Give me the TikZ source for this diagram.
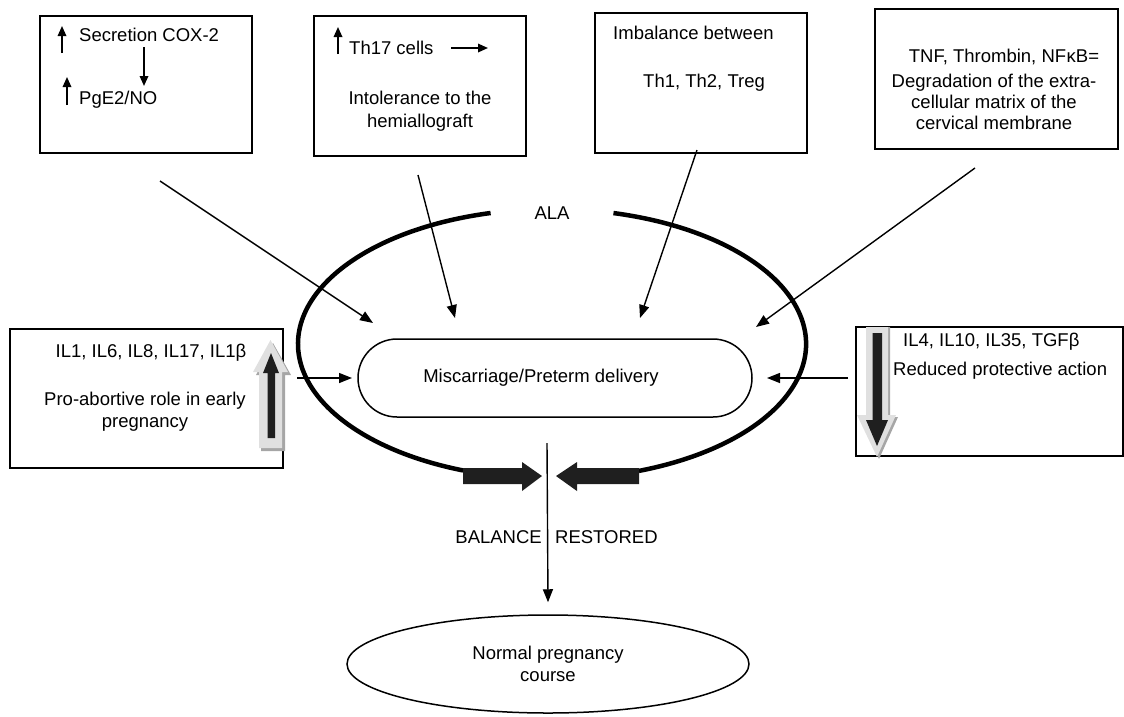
\documentclass[tikz,border=0pt]{standalone}
\usepackage{fontspec}
\setmainfont{Liberation Sans}
\usetikzlibrary{arrows.meta,shapes.geometric}
\begin{document}
\begin{tikzpicture}[x=1pt,y=1pt,
  font=\fontsize{18.5}{21.5}\selectfont,
  box/.style={draw, line width=1.6pt, inner sep=0pt},
  txt/.style={inner sep=0pt, anchor=base, align=center},
  txtw/.style={inner sep=0pt, anchor=base west},
  conn/.style={line width=1.4pt, -{Triangle[length=13pt,width=10pt]}},
  smallarr/.style={line width=1.7pt, -{Triangle[length=10pt,width=8.5pt]}},
  ala/.style={line width=4.5pt},
  fatdark/.style={fill=black!88, draw=none},
  fatlight/.style={fill=black!12, draw=none},
  fatshadow/.style={fill=black!35, draw=none},
]
\useasboundingbox (0,0) rectangle (1124,-716);

% ---------- top boxes ----------
\node[box, minimum width=212, minimum height=137] (b1) at (146,-84.5) {};
\node[box, minimum width=212, minimum height=140] (b2) at (420,-86) {};
\node[box, minimum width=212, minimum height=140] (b3) at (701,-83) {};
\node[box, minimum width=243, minimum height=140] (b4) at (996.5,-79) {};

% box 1
\node[txtw] (t1a) at (79,-41) {Secretion COX-2};
\node[txtw] (t1b) at (79,-104) {PgE2/NO};
\coordinate (u1s) at (62,-53);  \coordinate (u1e) at (62,-26);
\coordinate (d1s) at (144,-47); \coordinate (d1e) at (144,-86);
\coordinate (u2s) at (67,-105); \coordinate (u2e) at (67,-77);
\draw[smallarr] (u1s) -- (u1e);
\draw[smallarr] (d1s) -- (d1e);
\draw[smallarr] (u2s) -- (u2e);

% box 2
\node[txtw] (t2a) at (349,-54) {Th17 cells};
\node[txt] (t2b) at (420,-127) {Intolerance to the\\[1.5pt]hemiallograft};
\coordinate (u3s) at (338,-54); \coordinate (u3e) at (338,-27);
\coordinate (r1s) at (451,-48); \coordinate (r1e) at (488,-48);
\draw[smallarr] (u3s) -- (u3e);
\draw[smallarr] (r1s) -- (r1e);

% box 3
\node[txtw] (t3a) at (613,-39) {Imbalance between};
\node[txtw] (t3b) at (643,-87) {Th1, Th2, Treg};

% box 4
\node[txt] (t4a) at (1004,-62) {TNF, Thrombin, NF\kern0.5pt κB=};
\node[txt] (t4b) at (994,-129) {Degradation of the extra-\\[-0.5pt]cellular matrix of the\\[-0.5pt]cervical membrane};

% ---------- ALA ring ----------
\draw[ala] (490.6,-213) arc[start angle=104, end angle=249.5, x radius=254, y radius=135];
\draw[ala] (638.9,-470.9) arc[start angle=-70, end angle=76, x radius=254, y radius=135];
\node[inner sep=0pt] (ala) at (552,-213) {ALA};

% bottom fat arrows
\fill[fatdark] (463,-468) -- (522,-468) -- (522,-462) -- (542,-476) -- (522,-491) -- (522,-484) -- (463,-484) -- cycle;
\fill[fatdark] (639,-468) -- (577,-468) -- (577,-462) -- (556,-476) -- (577,-491) -- (577,-484) -- (639,-484) -- cycle;

% central stadium
\node[draw, line width=1.5pt, rounded corners=39pt, minimum width=394, minimum height=78, inner sep=0pt] (stad) at (555,-378) {};
\node[inner sep=0pt] (stadtxt) at (541,-378) {Miscarriage/Preterm delivery};

% ---------- side boxes ----------
\node[box, minimum width=273, minimum height=139] (b5) at (146.5,-398.5) {};
\node[box, minimum width=267, minimum height=129] (b6) at (989.5,-391.5) {};

\node[txt] (t5a) at (151,-357) {IL1, IL6, IL8, IL17, IL1β};
\node[txt] (t5b) at (145,-427) {Pro-abortive role in early\\[0.5pt]pregnancy};
\node[txtw] (t6a) at (903,-346) {IL4, IL10, IL35, TGFβ};
\node[txtw] (t6b) at (893,-375) {Reduced protective action};

% fat up arrow (left box)
\fill[fatshadow] (261,-375) -- (256,-375) -- (273,-343) -- (291,-375) -- (285,-375) -- (285,-451) -- (261,-451) -- cycle;
\fill[fatlight] (259,-372) -- (253,-372) -- (270.5,-340) -- (288,-372) -- (282,-372) -- (282,-448) -- (259,-448) -- cycle;
\fill[fatdark] (267.5,-373) -- (263,-373) -- (271,-353) -- (279,-373) -- (275,-373) -- (275,-438) -- (267.5,-438) -- cycle;

% fat down arrow (right box)
\fill[fatshadow] (869,-327) -- (890,-327) -- (890,-417) -- (898,-417) -- (879,-459) -- (860,-417) -- (869,-417) -- cycle;
\fill[fatlight] (866,-327) -- (888,-327) -- (888,-415) -- (896,-415) -- (877,-457) -- (857,-415) -- (866,-415) -- cycle;
\fill[fatdark] (872.5,-333) -- (882,-333) -- (882,-420) -- (888,-420) -- (877,-446) -- (866,-420) -- (872.5,-420) -- cycle;

% ---------- connectors ----------
\coordinate (c1s) at (160,-181); \coordinate (c1e) at (373,-323);
\coordinate (c2s) at (418,-175); \coordinate (c2e) at (455,-318);
\coordinate (c3s) at (697,-150); \coordinate (c3e) at (640,-318);
\coordinate (c4s) at (975,-168); \coordinate (c4e) at (756,-327);
\draw[conn] (c1s) -- (c1e);
\draw[conn] (c2s) -- (c2e);
\draw[conn] (c3s) -- (c3e);
\draw[conn] (c4s) -- (c4e);

\coordinate (ls) at (297,-378); \coordinate (le) at (352,-378);
\coordinate (rs) at (848,-378); \coordinate (re) at (767,-378);
\draw[conn] (ls) -- (le);
\draw[conn] (rs) -- (re);

% ---------- bottom ----------
\node[draw, ellipse, line width=1.5pt, minimum width=402, minimum height=98, inner sep=0pt, align=center] (norm) at (548,-664) {Normal pregnancy\\course};
\coordinate (vs) at (547,-443);
\draw[conn] (vs) -- ([yshift=12]norm.north);
\node[inner sep=0pt, anchor=base east] (bal) at (542,-543) {BALANCE};
\node[inner sep=0pt, anchor=base west] (res) at (555,-543) {RESTORED};

\end{tikzpicture}
\end{document}
